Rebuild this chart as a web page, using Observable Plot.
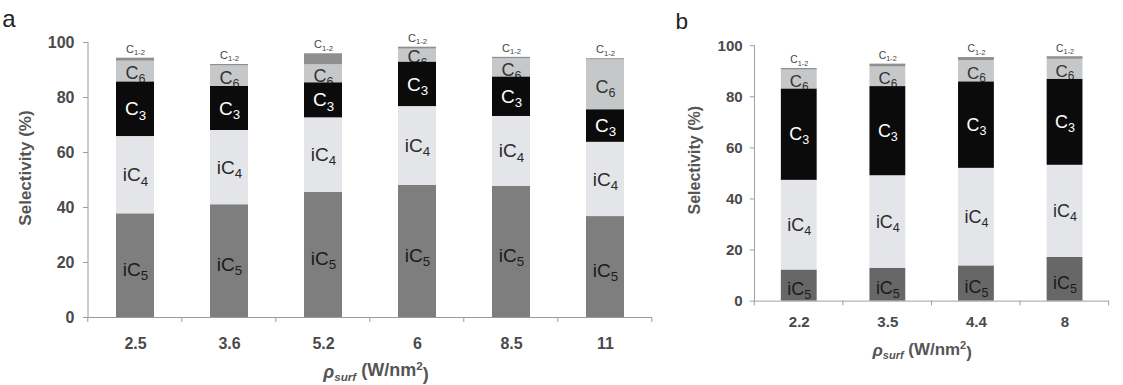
<!DOCTYPE html>
<html>
<head>
<meta charset="utf-8">
<script src="https://cdn.jsdelivr.net/npm/d3@7"></script>
<script src="https://cdn.jsdelivr.net/npm/@observablehq/plot@0.6"></script>
<style>
  html, body { margin: 0; padding: 0; background: #fff; }
  body { width: 1123px; height: 385px; overflow: hidden; position: relative; font-family: "Liberation Sans", Arial, sans-serif; }
  #pa { position: absolute; left: 0; top: 0; }
  #pb { position: absolute; left: 680px; top: 0; }
</style>
</head>
<body>
<div id="pa"></div>
<div id="pb"></div>
<script>
// ---- Data ----
const seriesNames = ["iC5", "iC4", "C3", "C6", "C12"];
const seriesLabels = {iC5: "iC_5", iC4: "iC_4", C3: "C_3", C6: "C_6", C12: "C_1-2"};

// Panel a
const catsA = ["2.5", "3.6", "5.2", "6", "8.5", "11"];
const iC5A = [37.7, 41.0, 45.5, 48.0, 47.7, 36.7];
const iC4A = [28.1, 27.0, 27.1, 28.7, 25.4, 27.0];
const C3A  = [19.8, 16.0, 12.7, 16.1, 14.3, 11.8];
const C6A  = [7.6, 7.5, 6.6, 4.8, 6.7, 18.2];
const C12A = [1.1, 0.5, 4.0, 0.7, 0.5, 0.4];

// Panel b
const catsB = ["2.2", "3.5", "4.4", "8"];
const iC5B = [12.2, 12.9, 13.8, 17.1];
const iC4B = [35.1, 36.2, 38.2, 36.1];
const C3B  = [35.7, 34.9, 33.8, 33.6];
const C6B  = [7.5, 7.7, 8.4, 7.9];
const C12B = [0.6, 1.1, 1.2, 1.0];

const yTicks = [0, 20, 40, 60, 80, 100];

// ---- Styles ----
const font = "'Liberation Sans', Arial, sans-serif";
const baseColors = {iC4: "#e3e5e9", C3: "#0b0b0b", C6: "#c6c7c9", C12: "#8f8f8f"};
const labelFill = {iC5: "#1a1a1a", iC4: "#2a2a2a", C3: "#ffffff", C6: "#333333", C12: "#444444"};

function buildRows(cats, vals) {
  return cats.flatMap((c, i) => {
    let acc = 0;
    return seriesNames.map((s, j) => {
      const v = vals[j][i];
      const r = {cat: c, s, y1: acc, y2: acc + v, label: seriesLabels[s]};
      acc += v;
      return r;
    });
  });
}

function subify(svg) {
  d3.select(svg).selectAll("text").each(function () {
    const t = this.textContent;
    if (!t || t.indexOf("_") < 0) return;
    const parts = t.split("_");
    const sel = d3.select(this);
    sel.text(null);
    sel.append("tspan").text(parts[0]);
    sel.append("tspan").attr("dy", "0.32em").attr("font-size", "0.7em").text(parts[1]);
  });
}

function makePanel(cfg) {
  const rows = buildRows(cfg.cats, cfg.vals);
  const colors = Object.assign({iC5: cfg.iC5Color}, baseColors);
  const bar = (s) => Plot.barY(rows.filter(d => d.s === s), {x: "cat", y1: "y1", y2: "y2", fill: colors[s]});
  const lab = (s, extra = {}) => Plot.text(rows.filter(d => d.s === s), Object.assign({
    x: "cat", y: d => (d.y1 + d.y2) / 2, text: "label", fill: labelFill[s],
    fontSize: 19, fontFamily: font
  }, extra));

  const plot = Plot.plot({
    width: cfg.width, height: 385,
    marginLeft: cfg.ml, marginRight: cfg.mr, marginTop: cfg.mt, marginBottom: cfg.mb,
    style: {fontFamily: font, background: "transparent", overflow: "visible"},
    x: {type: "band", domain: cfg.cats, paddingInner: 0.6, paddingOuter: 0.3, label: null},
    y: {domain: [0, 100], label: null},
    marks: [
      bar("iC5"), bar("iC4"), bar("C6"), bar("C12"),
      lab("C6", {dy: 2, fontSize: 18}),
      bar("C3"),
      lab("iC5", {dy: 4}), lab("iC4"), lab("C3"),
      lab("C12", {y: "y2", dy: -9, fontSize: 11, fill: "#444"}),
      Plot.ruleY([0], {stroke: "#9a9a9a", strokeWidth: 1}),
      Plot.axisY({ticks: yTicks, tickSize: 5, tickPadding: cfg.ytp, stroke: "#9a9a9a", fill: "#4a4a4a", fontSize: 16, fontWeight: "bold", label: null}),
      Plot.axisX({tickSize: 0, tickPadding: cfg.xtp, fill: "#4a4a4a", fontSize: 16, fontWeight: "bold", label: null})
    ]
  });

  subify(plot);
  const svg = d3.select(plot);
  svg.selectAll("g[aria-label='y-axis tick label'], g[aria-label='x-axis tick label']")
    .attr("font-size", 16).attr("font-weight", "bold").attr("fill", "#4a4a4a");

  const xs = plot.scale("x"), ys = plot.scale("y");
  const y0 = ys.apply(0), y100 = ys.apply(100);
  // vertical axis line
  svg.append("line").attr("x1", cfg.ml).attr("x2", cfg.ml).attr("y1", y0).attr("y2", y100)
    .attr("stroke", "#9a9a9a").attr("stroke-width", 1);
  // x tick marks at band boundaries
  const gap = xs.step * 0.3;
  const bounds = cfg.cats.map(c => xs.apply(c) - gap);
  bounds.push(xs.apply(cfg.cats[cfg.cats.length - 1]) - gap + xs.step);
  svg.append("g").selectAll("line").data(bounds).join("line")
    .attr("x1", d => d).attr("x2", d => d).attr("y1", y0).attr("y2", y0 + 5)
    .attr("stroke", "#9a9a9a");

  // panel letter
  svg.append("text").attr("x", cfg.letterX).attr("y", cfg.letterY)
    .attr("font-size", 24).attr("fill", "#222").attr("font-family", font).text(cfg.letter);

  // y label
  svg.append("text")
    .attr("transform", `translate(${cfg.ylx},${cfg.yly}) rotate(-90)`)
    .attr("text-anchor", "middle").attr("dy", "0.35em")
    .attr("font-size", 17).attr("font-weight", "bold").attr("fill", "#555")
    .attr("font-family", font).text("Selectivity (%)");

  // x label: ρ_surf (W/nm²)
  const xl = svg.append("text")
    .attr("x", cfg.xlx).attr("y", 378).attr("text-anchor", "middle")
    .attr("font-size", 18).attr("font-weight", "bold").attr("fill", "#555").attr("font-family", font);
  xl.append("tspan").attr("font-style", "italic").text("ρ");
  xl.append("tspan").attr("font-style", "italic").attr("font-size", "0.65em").attr("dy", "0.25em").text("surf");
  xl.append("tspan").attr("dy", "-0.25em").text(" (W/nm");
  xl.append("tspan").attr("font-size", "0.65em").attr("dy", "-0.55em").text("2");
  xl.append("tspan").attr("dy", "0.55em").text(")");

  return plot;
}

document.getElementById("pa").appendChild(makePanel({
  cats: catsA, vals: [iC5A, iC4A, C3A, C6A, C12A], iC5Color: "#7e7e7e",
  width: 665, ml: 88, mr: 13, mt: 42, mb: 68, ytp: 9, xtp: 20,
  letter: "a", letterX: 9, letterY: 27, ylx: 25, yly: 168, xlx: 376
}));

document.getElementById("pb").appendChild(makePanel({
  cats: catsB, vals: [iC5B, iC4B, C3B, C6B, C12B], iC5Color: "#676767",
  width: 470, ml: 79, mr: 15, mt: 48, mb: 66, ytp: 8, xtp: 16,
  letter: "b", letterX: 2, letterY: 31, ylx: 15, yly: 170, xlx: 257
}));
</script>
</body>
</html>
